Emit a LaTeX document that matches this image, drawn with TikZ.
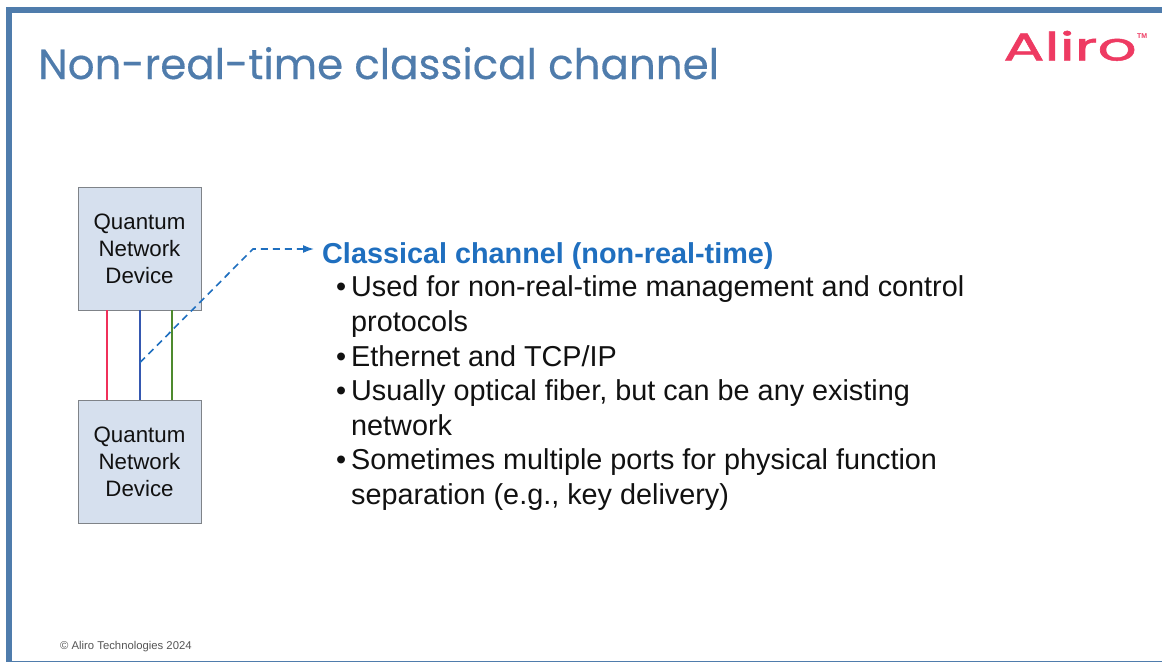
\documentclass[tikz,border=0pt]{standalone}
\usepackage{fontspec}
\setmainfont{Liberation Sans}
\newfontfamily\titlefont[FakeBold=0.35]{Poppins}
\newfontfamily\logofont[FakeBold=1.1]{Poppins}
\usetikzlibrary{arrows.meta}
\definecolor{frameblue}{HTML}{4F7CAC}
\definecolor{boxfill}{HTML}{D6E0EE}
\definecolor{boxline}{HTML}{7F8388}
\definecolor{headblue}{HTML}{1F6FBF}
\definecolor{logored}{HTML}{EE3A62}
\definecolor{linered}{HTML}{F0305A}
\definecolor{lineblue}{HTML}{3558B0}
\definecolor{linegreen}{HTML}{4E8A2E}
\definecolor{foot}{HTML}{555555}
\definecolor{ink}{HTML}{111111}
\tikzset{
  devbox/.style={draw=boxline,fill=boxfill,line width=0.9pt,minimum width=123pt,minimum height=123pt,inner sep=0pt,align=center,font=\fontsize{22.3}{27}\selectfont,text=ink},
  txt/.style={anchor=base west,inner sep=0pt,font=\fontsize{28.8}{32}\selectfont,text=ink},
  link/.style={line width=1.8pt}
}
\begin{document}
\begin{tikzpicture}[x=1pt,y=-1pt]
\useasboundingbox (0,0) rectangle (1162,662);
\fill[white] (0,0) rectangle (1162,662);
\fill[frameblue] (6,7) rectangle (1162,13);
\fill[frameblue] (6,7) rectangle (12,662);
\fill[frameblue] (6,660.5) rectangle (1162,661.5);
\node[anchor=base west,inner sep=0pt,text=frameblue,font=\titlefont\fontsize{42}{50}\selectfont] (title) at (38,79) {Non-real-time classical channel};
\node[anchor=base west,inner sep=0pt,text=logored,font=\logofont\fontsize{39}{44}\selectfont,xscale=1.57,transform shape] (logo) at (1003,60.5) {Aliro};
\node[anchor=base west,inner sep=0pt,text=logored,font=\bfseries\fontsize{7}{8}\selectfont] (tm) at (1137,38) {TM};
\node[devbox] (top) at (139.5,248.5) {Quantum\\Network\\Device};
\node[devbox] (bot) at (139.5,461.5) {Quantum\\Network\\Device};
\draw[link,linered] ([xshift=-32.5pt]top.south) -- ([xshift=-32.5pt]bot.north);
\draw[link,lineblue] ([xshift=0.2pt]top.south) -- ([xshift=0.2pt]bot.north);
\draw[link,linegreen] ([xshift=32.5pt]top.south) -- ([xshift=32.5pt]bot.north);
\node[txt,text=headblue,font=\bfseries\fontsize{28.8}{32}\selectfont] (head) at (322,263.7) {Classical channel (non-real-time)};
\coordinate (tap) at (140,362.5);
\coordinate (bend) at (253,249);
\coordinate (tip) at (314,249);
\draw[headblue,line width=1.6pt,dash pattern=on 7pt off 5pt,-{Latex[length=11pt,width=8pt]}] (tap) -- (bend) -- (tip);
\node[txt] (b1) at (336,296.7) {•};
\node[txt] (l1) at (351,296.7) {Used for non-real-time management and control};
\node[txt] (l1b) at (351,331.7) {protocols};
\node[txt] (b2) at (336,366.7) {•};
\node[txt] (l2) at (351,366.7) {Ethernet and TCP/IP};
\node[txt] (b3) at (336,400.7) {•};
\node[txt] (l3) at (351,400.7) {Usually optical fiber, but can be any existing};
\node[txt] (l3b) at (351,435.7) {network};
\node[txt] (b4) at (336,469.7) {•};
\node[txt] (l4) at (351,469.7) {Sometimes multiple ports for physical function};
\node[txt] (l4b) at (351,504.7) {separation (e.g., key delivery)};
\node[anchor=base west,inner sep=0pt,text=foot,font=\fontsize{11.3}{13}\selectfont] (copy) at (60,649) {© Aliro Technologies 2024};
\end{tikzpicture}
\end{document}
